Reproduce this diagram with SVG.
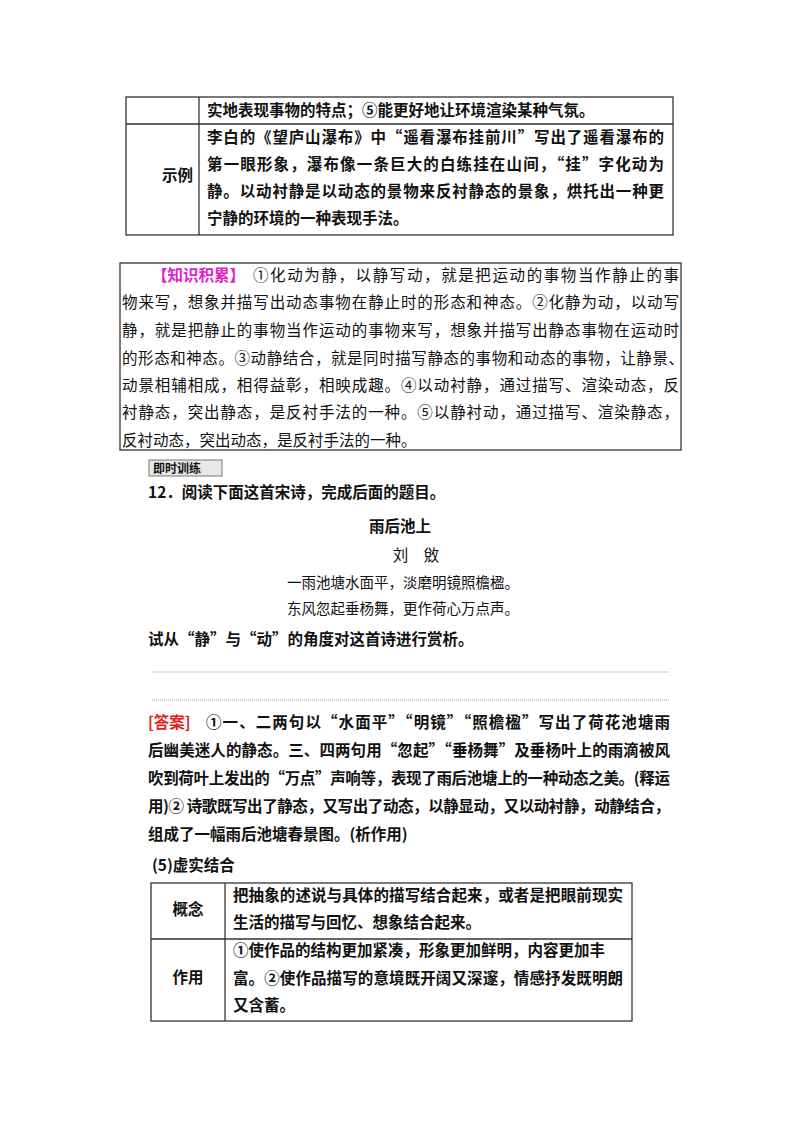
<svg xmlns="http://www.w3.org/2000/svg" width="800" height="1132" viewBox="0 0 800 1132">
<style>
text{font-family:"Noto Sans CJK SC","Liberation Serif",sans-serif;font-size:15.5px;fill:#111;font-weight:bold}
.n{font-weight:normal}
.t{fill:none;stroke:#333;stroke-width:1.3}
</style>
<rect width="800" height="1132" fill="#fff"/>
<g id="table1">
<rect class="t" x="126" y="97" width="547" height="138"/>
<line class="t" x1="126" y1="124" x2="673" y2="124"/>
<line class="t" x1="199" y1="97" x2="199" y2="235"/>
<text x="207" y="116">实地表现事物的特点；⑤能更好地让环境渲染某种气氛。</text>
<text x="162" y="181">示例</text>
<text x="207" y="143" textLength="457" lengthAdjust="spacing">李白的《望庐山瀑布》中“遥看瀑布挂前川”写出了遥看瀑布的</text>
<text x="207" y="170" textLength="457" lengthAdjust="spacing">第一眼形象，瀑布像一条巨大的白练挂在山间，“挂”字化动为</text>
<text x="207" y="197" textLength="457" lengthAdjust="spacing">静。以动衬静是以动态的景物来反衬静态的景象，烘托出一种更</text>
<text x="207" y="224">宁静的环境的一种表现手法。</text>
</g>
<g id="knowledge">
<rect class="t" x="120" y="263" width="561" height="187"/>
<text x="152" y="281" style="fill:#e020d0">【知识积累】</text>
<text class="n" x="253" y="281" textLength="426" lengthAdjust="spacing">①化动为静，以静写动，就是把运动的事物当作静止的事</text>
<text class="n" x="122" y="308" textLength="557" lengthAdjust="spacing">物来写，想象并描写出动态事物在静止时的形态和神态。②化静为动，以动写</text>
<text class="n" x="122" y="336" textLength="557" lengthAdjust="spacing">静，就是把静止的事物当作运动的事物来写，想象并描写出静态事物在运动时</text>
<text class="n" x="122" y="364" textLength="562" lengthAdjust="spacing">的形态和神态。③动静结合，就是同时描写静态的事物和动态的事物，让静景、</text>
<text class="n" x="122" y="391" textLength="557" lengthAdjust="spacing">动景相辅相成，相得益彰，相映成趣。④以动衬静，通过描写、渲染动态，反</text>
<text class="n" x="122" y="418" textLength="557" lengthAdjust="spacing">衬静态，突出静态，是反衬手法的一种。⑤以静衬动，通过描写、渲染静态，</text>
<text class="n" x="122" y="446">反衬动态，突出动态，是反衬手法的一种。</text>
</g>
<g id="exercise">
<rect x="149" y="460" width="73" height="16" fill="#e8e8e8" stroke="#555" stroke-width="0.8"/>
<text x="153" y="473" style="font-size:12px">即时训练</text>
<text x="148" y="498">12．阅读下面这首宋诗，完成后面的题目。</text>
<text x="400" y="532" text-anchor="middle">雨后池上</text>
<text x="416" y="561" text-anchor="middle" class="n">刘　敓</text>
<text x="403" y="588" text-anchor="middle" class="n" style="font-size:14.5px">一雨池塘水面平，淡磨明镜照檐楹。</text>
<text x="403" y="614" text-anchor="middle" class="n" style="font-size:14.5px">东风忽起垂杨舞，更作荷心万点声。</text>
<text x="148" y="645">试从“静”与“动”的角度对这首诗进行赏析。</text>
<line x1="152" y1="672" x2="670" y2="672" stroke="#999" stroke-dasharray="1,1"/>
<line x1="152" y1="700" x2="670" y2="700" stroke="#999" stroke-dasharray="1,1"/>
</g>
<g id="answer">
<text x="148" y="728" style="fill:#e02020">[答案]</text>
<text x="206" y="728" textLength="464" lengthAdjust="spacing">①一、二两句以“水面平”“明镜”“照檐楹”写出了荷花池塘雨</text>
<text x="148" y="756" textLength="522" lengthAdjust="spacing">后幽美迷人的静态。三、四两句用“忽起”“垂杨舞”及垂杨叶上的雨滴被风</text>
<text x="148" y="784" textLength="522" lengthAdjust="spacing">吹到荷叶上发出的“万点”声响等，表现了雨后池塘上的一种动态之美。(释运</text>
<text x="148" y="812" textLength="522" lengthAdjust="spacing">用)② 诗歌既写出了静态，又写出了动态，以静显动，又以动衬静，动静结合，</text>
<text x="148" y="840">组成了一幅雨后池塘春景图。(析作用)</text>
<text x="152" y="871">(5)虚实结合</text>
</g>
<g id="table2">
<rect class="t" x="151" y="883" width="481" height="138"/>
<line class="t" x1="151" y1="939" x2="632" y2="939"/>
<line class="t" x1="225" y1="883" x2="225" y2="1021"/>
<text x="188" y="915" text-anchor="middle">概念</text>
<text x="188" y="983" text-anchor="middle">作用</text>
<text x="233" y="901" textLength="390" lengthAdjust="spacing">把抽象的述说与具体的描写结合起来，或者是把眼前现实</text>
<text x="233" y="928">生活的描写与回忆、想象结合起来。</text>
<text x="233" y="956">①使作品的结构更加紧凑，形象更加鲜明，内容更加丰</text>
<text x="233" y="984" textLength="390" lengthAdjust="spacing">富。②使作品描写的意境既开阔又深邃，情感抒发既明朗</text>
<text x="233" y="1011">又含蓄。</text>
</g>
</svg>
